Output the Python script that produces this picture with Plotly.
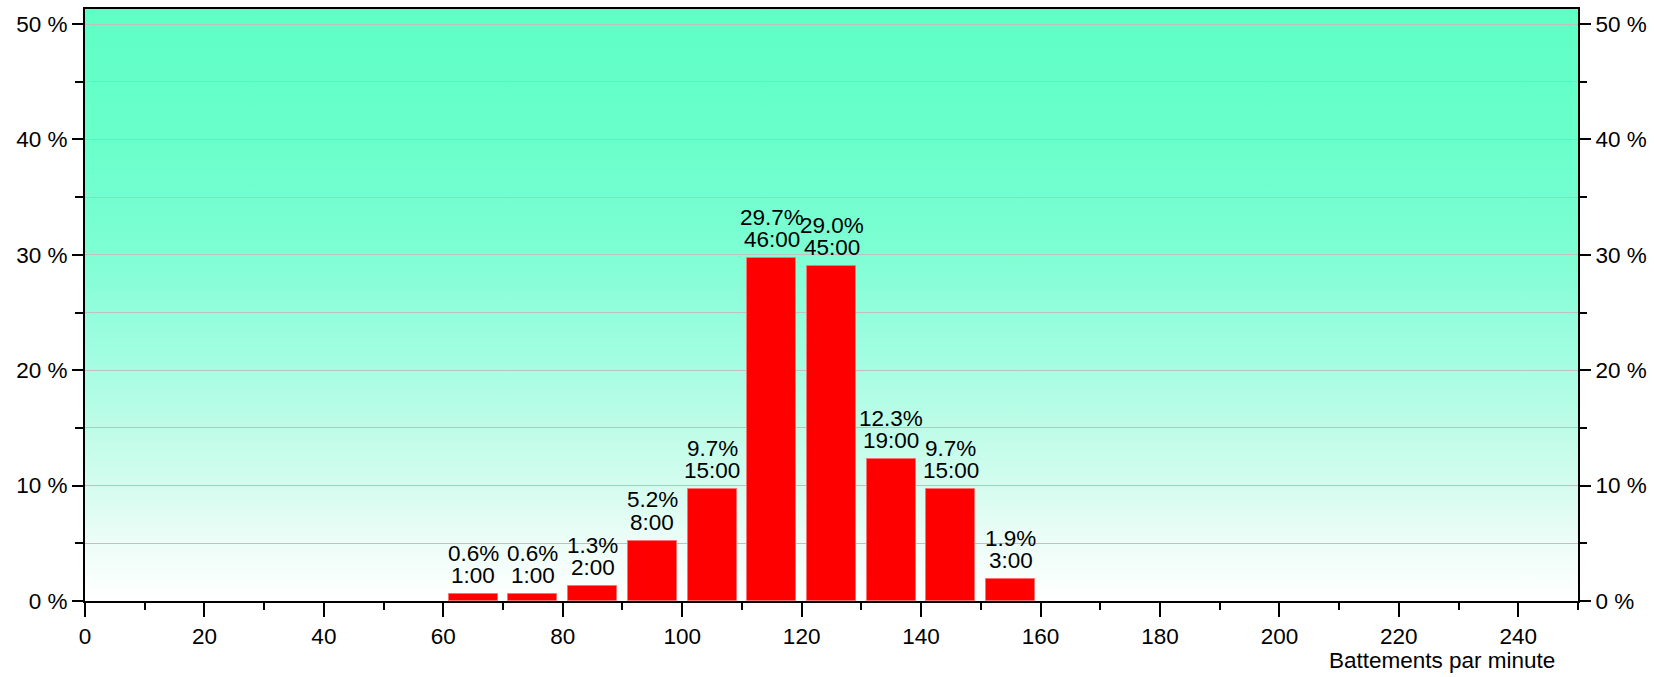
import base64
import plotly.graph_objects as go

# Heart-rate distribution: 10 bpm bins, share of time and duration per bin
bin_centers = [65, 75, 85, 95, 105, 115, 125, 135, 145, 155]
percent = [0.6, 0.6, 1.3, 5.2, 9.7, 29.7, 29.0, 12.3, 9.7, 1.9]
durations = ["1:00", "1:00", "2:00", "8:00", "15:00", "46:00", "45:00", "19:00", "15:00", "3:00"]

x_tick_step = 20
y_tick_step = 10

X_RANGE = [0, 250]
Y_RANGE = [0, 51.3]
FONT = "Liberation Sans, Arial, sans-serif"
FS = 22.5

# vertical background gradient (white at the bottom, mint green at the top)
grad_stops = [(0.0, "#FFFFFF"), (0.1, "#ECFDF7"), (0.2, "#D3FCEE"), (0.4, "#A5FDE1"),
              (0.6, "#7CFED3"), (0.78, "#69FFCB"), (1.0, "#5EFFC5")]
svg = ('<svg xmlns="http://www.w3.org/2000/svg" width="100" height="1000" preserveAspectRatio="none">'
       '<defs><linearGradient id="g" x1="0" y1="1" x2="0" y2="0">'
       + "".join(f'<stop offset="{o}" stop-color="{c}"/>' for o, c in grad_stops)
       + '</linearGradient></defs><rect width="100" height="1000" fill="url(#g)"/></svg>')
svg_uri = "data:image/svg+xml;base64," + base64.b64encode(svg.encode()).decode()

fig = go.Figure()

fig.add_trace(go.Bar(
    x=bin_centers, y=percent, width=[8.2] * len(bin_centers),
    marker=dict(color="#FF0000", line=dict(color="#FF7070", width=1)),
    hoverinfo="skip", showlegend=False,
))

# invisible twin so the right-hand percentage axis is drawn
fig.add_trace(go.Scatter(
    x=bin_centers, y=percent, yaxis="y2", mode="markers",
    marker=dict(opacity=0), hoverinfo="skip", showlegend=False,
))

label_font = dict(family=FONT, size=FS, color="#000")
annotations = []
for xc, p, d in zip(bin_centers, percent, durations):
    annotations.append(dict(x=xc, y=p, xref="x", yref="y", text=d, showarrow=False,
                            yanchor="bottom", yshift=4, font=label_font))
    annotations.append(dict(x=xc, y=p, xref="x", yref="y", text=f"{p:.1f}%", showarrow=False,
                            yanchor="bottom", yshift=26.5, font=label_font))

W, H = 1654, 677
ML, MR, MT, MB = 85, 75, 7, 75.5
PW, PH = W - ML - MR, H - MT - MB
annotations.append(dict(x=(1558 - ML) / PW, y=(H - MB - 661) / PH, xref="paper", yref="paper",
                        text="Battements par minute", showarrow=False,
                        xanchor="right", yanchor="middle", font=label_font))

yaxis_common = dict(
    range=Y_RANGE, tickmode="linear", tick0=0, dtick=y_tick_step, ticksuffix=" %",
    ticks="outside", ticklen=11, tickwidth=2, tickcolor="#000",
    showline=True, linecolor="#000", linewidth=2,
    tickfont=label_font, fixedrange=True, zeroline=False,
)

fig.update_layout(
    width=W, height=H,
    margin=dict(l=ML, r=MR, t=MT, b=MB, pad=0),
    paper_bgcolor="#FFFFFF", plot_bgcolor="#FFFFFF",
    bargap=0,
    xaxis=dict(
        range=X_RANGE, tickmode="linear", tick0=0, dtick=x_tick_step,
        ticks="outside", ticklen=14, tickwidth=2, tickcolor="#000",
        minor=dict(dtick=10, tick0=0, ticks="outside", ticklen=7, tickwidth=2, tickcolor="#000"),
        showline=True, linecolor="#000", linewidth=2, mirror=True,
        showgrid=False, zeroline=False, fixedrange=True,
        tickfont=label_font,
    ),
    yaxis=dict(
        **yaxis_common, side="left",
        showgrid=True, gridcolor="#C0C0C0", gridwidth=1,
        minor=dict(dtick=5, tick0=0, ticks="outside", ticklen=8, tickwidth=2, tickcolor="#000",
                   showgrid=True, gridcolor="#C0C0C0", gridwidth=1),
    ),
    yaxis2=dict(
        **yaxis_common, side="right", overlaying="y", showgrid=False,
        minor=dict(dtick=5, tick0=0, ticks="outside", ticklen=7, tickwidth=2, tickcolor="#000"),
    ),
    images=[dict(source=svg_uri, xref="x", yref="y", x=X_RANGE[0], y=Y_RANGE[1],
                 sizex=X_RANGE[1] - X_RANGE[0], sizey=Y_RANGE[1] - Y_RANGE[0],
                 sizing="stretch", layer="below", xanchor="left", yanchor="top")],
    annotations=annotations,
    font=label_font,
)

fig.write_html("out.html")
